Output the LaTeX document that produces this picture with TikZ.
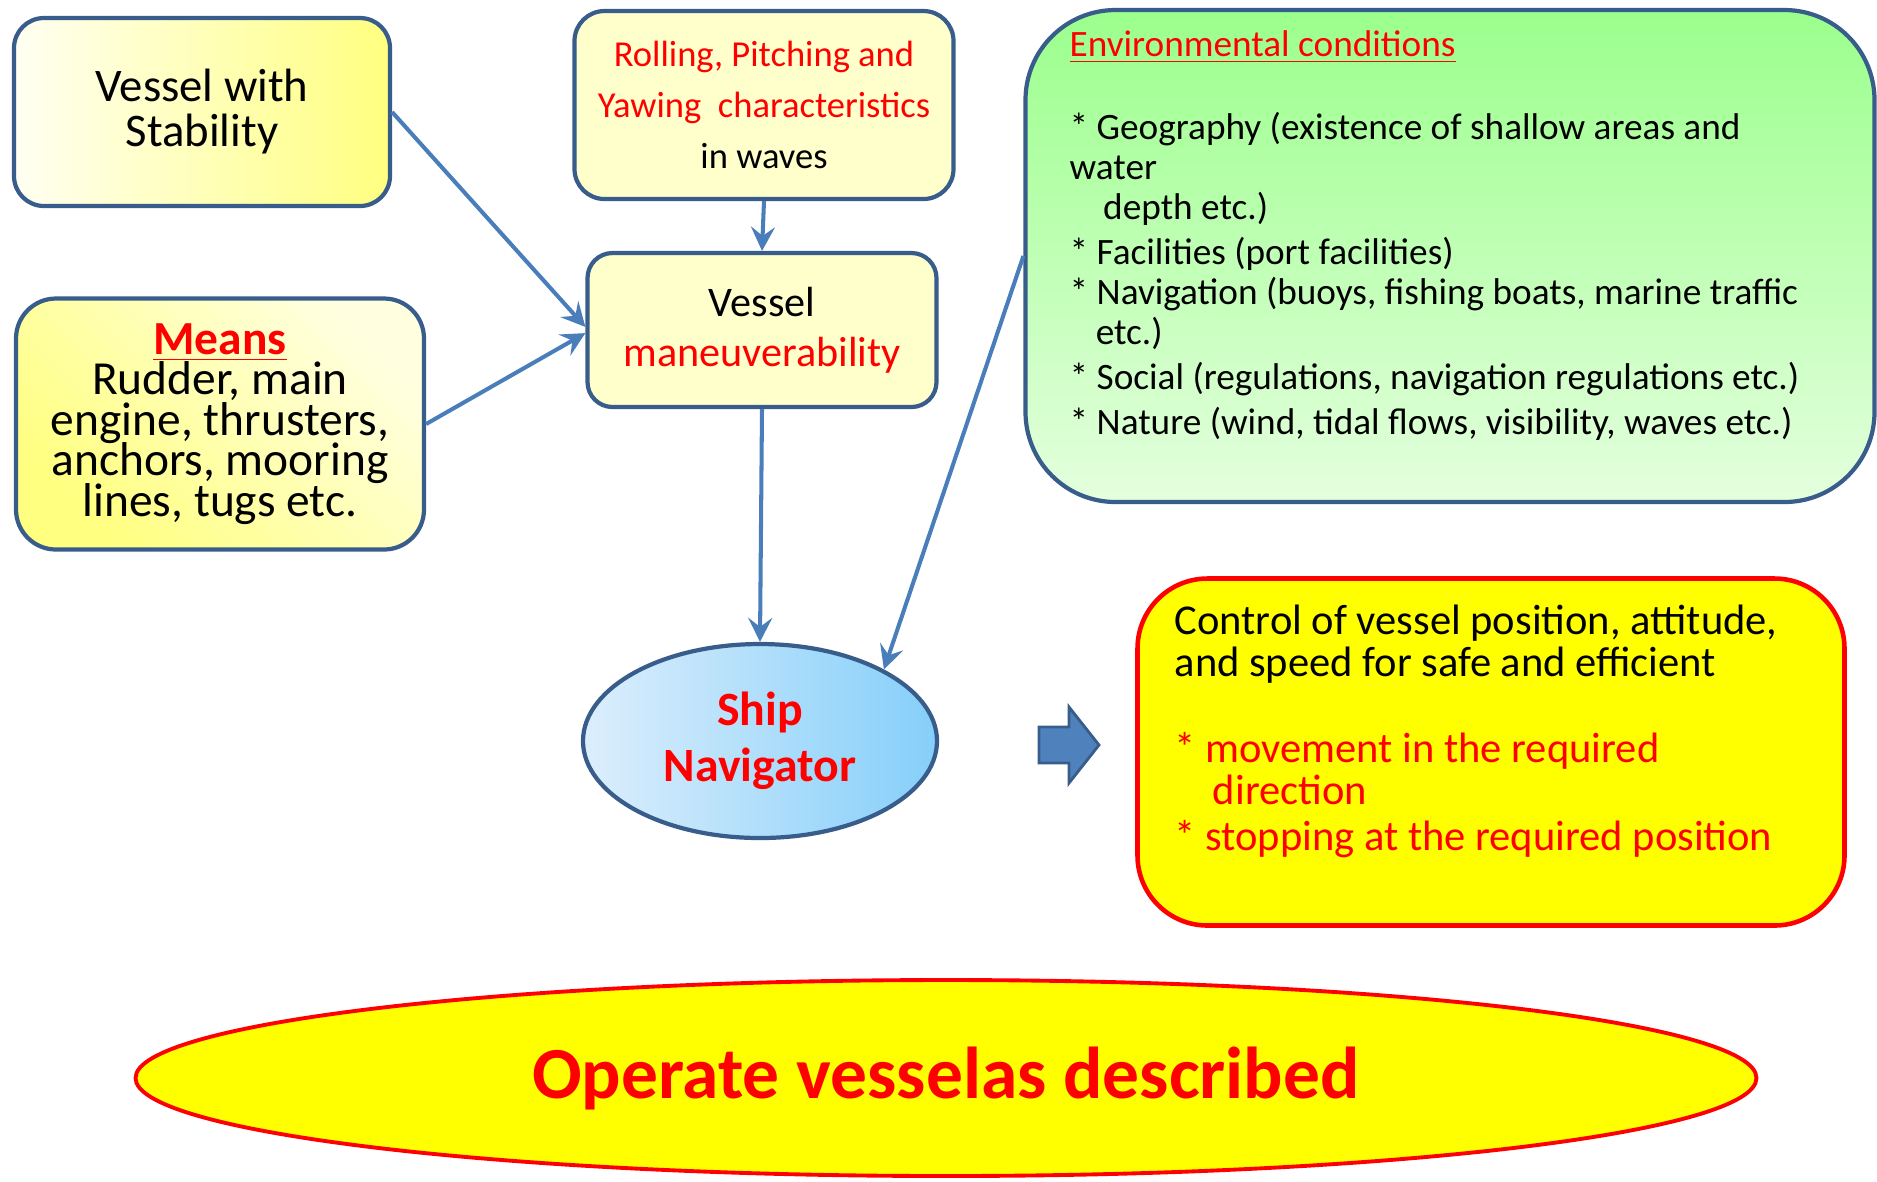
\documentclass[tikz,border=0pt]{standalone}
\usepackage{fontspec}
\setmainfont{Carlito}
\usetikzlibrary{arrows.meta, shapes.geometric}
\definecolor{frameblue}{RGB}{56,93,138}
\definecolor{linkblue}{RGB}{74,126,187}
\definecolor{blockblue}{RGB}{79,129,189}
\definecolor{paleyellow}{RGB}{255,255,204}
\definecolor{hotred}{RGB}{255,0,0}
\definecolor{padyellow}{RGB}{255,255,0}
\definecolor{envtop}{RGB}{155,255,140}
\definecolor{envbot}{RGB}{228,255,222}
\definecolor{navleft}{RGB}{220,238,252}
\definecolor{navright}{RGB}{133,207,250}
\newcommand{\snugfont}[2]{\fontsize{#1}{#2}\selectfont\lineskiplimit-20pt\relax}

\begin{document}
\begin{tikzpicture}[x=0.1mm, y=-0.1mm,
  box/.style={draw=frameblue, line width=1.2pt, rounded corners=3mm, align=center, inner sep=0pt},
  txt/.style={align=left, anchor=north west, inner sep=0pt},
  link/.style={draw=linkblue, line width=1.15pt, -{Stealth[length=2.4mm, width=2.4mm, inset=0.9mm]}}
]
  \useasboundingbox (0,0) rectangle (1877,1181);
  % left column
  \node[box, minimum width=37.6mm, minimum height=18.8mm, left color=yellow!5, right color=yellow!50,
        font=\snugfont{13.3}{12.8}] (Stab) at (202,112) {Vessel with\\Stability};
  \node[box, rounded corners=4mm, minimum width=40.8mm, minimum height=25.1mm,
        top color=yellow!12, bottom color=yellow!50, shading angle=-45,
        font=\snugfont{13.5}{11.5}] (Means) at (220,424)
        {\textcolor{hotred}{\bfseries\underline{Means}}\\Rudder, main\\engine, thrusters,\\anchors, mooring\\lines, tugs etc.};
  % middle column
  \node[box, fill=paleyellow, minimum width=37.9mm, minimum height=18.8mm,
        font=\fontsize{10.4}{14.5}\selectfont] (Roll) at (764,105)
        {\textcolor{hotred}{Rolling, Pitching and}\\\textcolor{hotred}{Yawing\ \ characteristics}\\in waves};
  \node[box, fill=paleyellow, rounded corners=2.5mm, minimum width=34.9mm, minimum height=15.4mm,
        font=\fontsize{12}{14.2}\selectfont] (Mnv) at (762,330) {Vessel\\\textcolor{hotred}{maneuverability}};
  \node[box, ellipse, left color=navleft, right color=navright, minimum width=35.4mm, minimum height=19.4mm,
        text=hotred, font=\fontsize{13.6}{15.8}\selectfont\bfseries] (Nav) at (760,741) {Ship\\Navigator};
  % right column
  \node[box, rounded corners=9mm, top color=envtop, bottom color=envbot,
        minimum width=84.9mm, minimum height=49.2mm] (Env) at (1450,256) {};
  \node[txt, font=\fontsize{10.6}{11.4}\selectfont] (EnvText) at (1069,30)
        {\textcolor{hotred}{\underline{Environmental conditions}}\\[12.2pt]
         * Geography (existence of shallow areas and\\
         water\\
         \hspace*{0.9em}depth etc.)\\[1.4pt]
         * Facilities (port facilities)\\
         * Navigation (buoys, fishing boats, marine traffic\\
         \hspace*{0.7em}etc.)\\[1.4pt]
         * Social (regulations, navigation regulations etc.)\\[1.4pt]
         * Nature (wind, tidal flows, visibility, waves etc.)};
  \node[box, draw=hotred, line width=1.3pt, rounded corners=7mm, fill=padyellow,
        minimum width=70.7mm, minimum height=34.7mm] (Ctrl) at (1491,752) {};
  \node[txt, font=\fontsize{12.1}{11.95}\selectfont] (CtrlText) at (1174,604)
        {Control of vessel position, attitude,\\
         and speed for safe and efficient\\[12.5pt]
         \textcolor{hotred}{* movement in the required}\\
         \textcolor{hotred}{\hspace*{0.9em}direction}\\[1.1pt]
         \textcolor{hotred}{* stopping at the required position}};
  % block arrow
  \draw[fill=blockblue, draw=frameblue, line width=0.8pt]
    (1039,727) -- (1069,727) -- (1069,707) -- (1099,745) -- (1069,783) -- (1069,763) -- (1039,763) -- cycle;
  % bottom
  \node[ellipse, draw=hotred, line width=1.1pt, fill=padyellow, minimum width=162.1mm, minimum height=19.6mm,
        text=hotred, font=\fontsize{20.9}{24}\selectfont\bfseries] (Goal) at (946,1078) {Operate vesselas described};
  % links
  \draw[link] (Stab.east) -- (Mnv.179);
  \draw[link] (Means.east) -- (Mnv.181);
  \draw[link] (Roll.south) -- (Mnv.north);
  \draw[link] (Mnv.south) -- (Nav.north);
  \draw[link] (Env.west) -- (Nav.30);
\end{tikzpicture}
\end{document}
